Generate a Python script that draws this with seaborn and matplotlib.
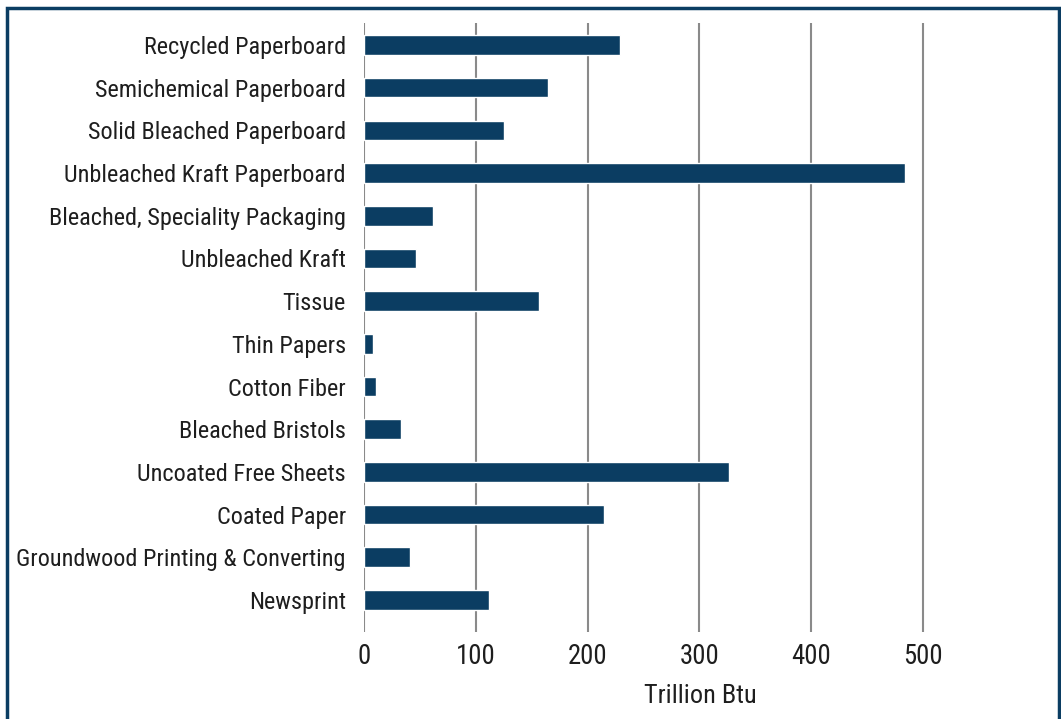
import matplotlib
matplotlib.use("Agg")
import matplotlib.pyplot as plt
import seaborn as sns
import pandas as pd
from matplotlib.patches import Rectangle
from matplotlib import font_manager

categories = [
    "Recycled Paperboard",
    "Semichemical Paperboard",
    "Solid Bleached Paperboard",
    "Unbleached Kraft Paperboard",
    "Bleached, Speciality Packaging",
    "Unbleached Kraft",
    "Tissue",
    "Thin Papers",
    "Cotton Fiber",
    "Bleached Bristols",
    "Uncoated Free Sheets",
    "Coated Paper",
    "Groundwood Printing & Converting",
    "Newsprint",
]
values = [229, 165, 125, 484, 61.5, 46.5, 156.5, 8, 10.5, 33, 326, 214.5, 41, 111.5]
xticks = [0, 100, 200, 300, 400, 500]
xlabel = "Trillion Btu"

BAR = "#0b3d62"
TEXT = "#1e1e1e"
GRID = "#8a8a8a"

sns.set_theme(style="white")
names = {f.name for f in font_manager.fontManager.ttflist}
fam = None
for cand in ["Liberation Sans Narrow", "Roboto Condensed", "Open Sans Condensed",
             "Noto Sans Condensed", "DejaVu Sans Condensed", "Liberation Sans"]:
    if cand in names:
        fam = cand
        break
if fam is None:
    fam = "DejaVu Sans"
plt.rcParams["font.family"] = [fam, "DejaVu Sans"]

df = pd.DataFrame({"category": categories, "value": values})

W, H = 1061, 719
fig = plt.figure(figsize=(W / 100, H / 100), dpi=100)
ax = fig.add_axes([364 / W, 1 - 632 / H, (1036 - 364) / W, (632 - 23) / H])

# choose a font size so that the longest label spans ~335 px as in the reference
renderer = fig.canvas.get_renderer()
probe = fig.text(0, 0, "Groundwood Printing & Converting", fontsize=17)
wpx = probe.get_window_extent(renderer).width
probe.remove()
fs = min(17.5, 17 * 336 / wpx)

sns.barplot(data=df, x="value", y="category", orient="h", color=BAR,
            width=0.46, saturation=1, ax=ax, zorder=3)

ax.set_xlim(0, 601)
ax.set_ylim(13.75, -0.515)
ax.set_xticks(xticks)
ax.set_xticklabels([str(t) for t in xticks])
for t in xticks:
    ax.axvline(t, color=GRID, lw=1.5, zorder=1)

for s in ax.spines.values():
    s.set_visible(False)
ax.tick_params(axis="both", length=0, colors=TEXT)
ax.tick_params(axis="y", pad=13, labelsize=fs)
ax.tick_params(axis="x", pad=8, labelsize=fs * 1.1)
ax.set_ylabel("")
ax.set_xlabel(xlabel, fontsize=fs * 1.08, color=TEXT, labelpad=10)
ax.grid(False)

border = Rectangle((6.5 / W, -0.05), (1059 - 6.5) / W, 1.05 - 7.5 / H,
                   transform=fig.transFigure, fill=False, edgecolor=BAR,
                   linewidth=2.5, clip_on=False)
fig.patches.append(border)

fig.savefig("out.png", dpi=100)
